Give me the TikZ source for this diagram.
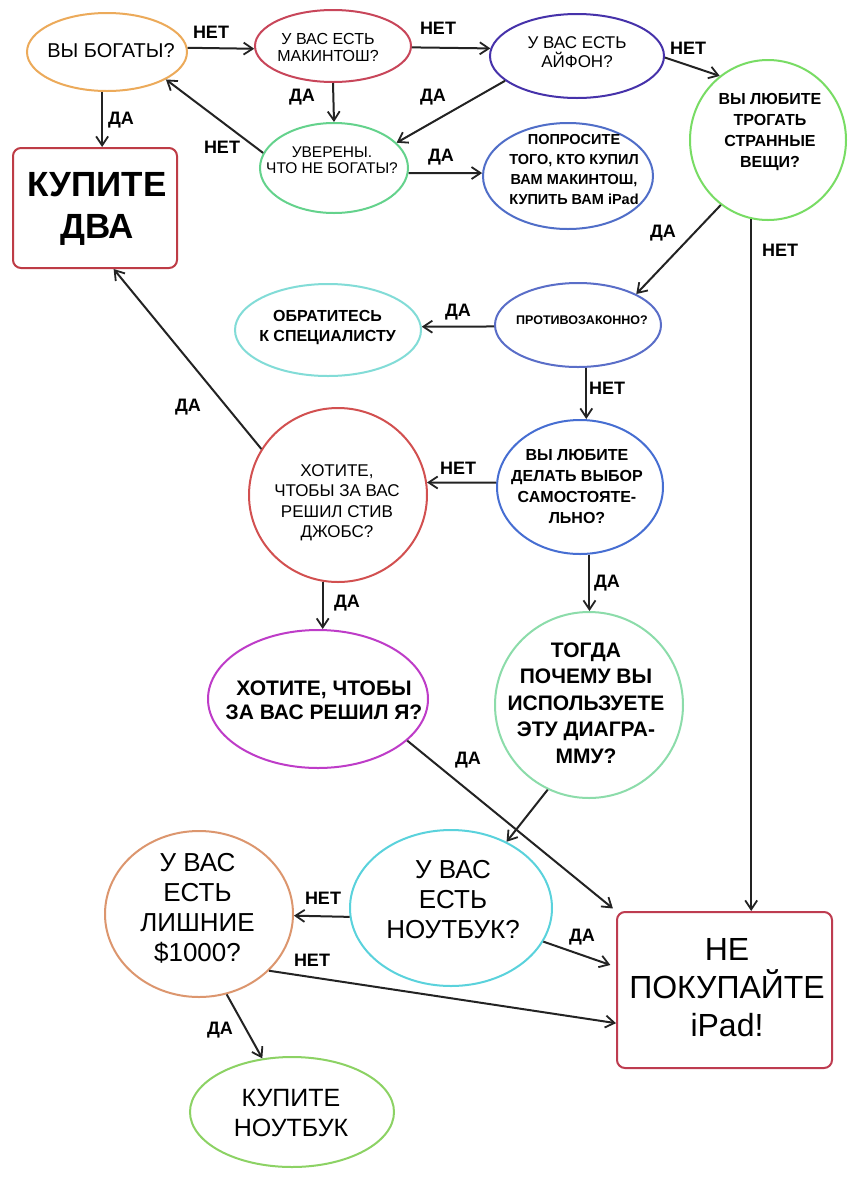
\documentclass[tikz,border=0pt]{standalone}
\usepackage{fontspec}
\setmainfont{Liberation Sans}
\usetikzlibrary{shapes.geometric,arrows.meta}
\definecolor{cA}{RGB}{236,170,90}
\definecolor{cB}{RGB}{200,70,90}
\definecolor{cC}{RGB}{70,50,170}
\definecolor{cD}{RGB}{120,220,100}
\definecolor{cE}{RGB}{190,60,70}
\definecolor{cF}{RGB}{100,210,140}
\definecolor{cG}{RGB}{80,110,200}
\definecolor{cH}{RGB}{90,110,200}
\definecolor{cI}{RGB}{130,220,215}
\definecolor{cJ}{RGB}{70,110,210}
\definecolor{cK}{RGB}{210,80,80}
\definecolor{cL}{RGB}{190,60,200}
\definecolor{cM}{RGB}{140,220,170}
\definecolor{cN}{RGB}{90,210,220}
\definecolor{cO}{RGB}{220,150,110}
\definecolor{cP}{RGB}{140,210,100}
\definecolor{cQ}{RGB}{190,60,80}
\definecolor{arrcol}{RGB}{35,35,35}
\tikzset{
  bub/.style={ellipse, draw, line width=2pt, inner sep=0pt},
  rbox/.style={rectangle, rounded corners=8pt, draw, line width=2pt, inner sep=0pt},
  txt/.style={align=center, inner sep=0pt, text=black},
  arr/.style={draw=arrcol, line width=2pt, -{Straight Barb[length=9pt,width=12pt,line width=1.8pt]}},
  lab/.style={font=\bfseries\fontsize{18}{18}\selectfont, inner sep=0pt, text=black},
}
\begin{document}
\begin{tikzpicture}[x=1pt,y=-1pt]
\fill[white] (0,0) rectangle (848,1179);
\useasboundingbox (0,0) rectangle (848,1179);

% shapes
\node[bub, draw=cA, minimum width=160pt, minimum height=78pt] (A) at (107,52) {};
\node[bub, draw=cB, minimum width=156pt, minimum height=72pt] (B) at (333,46) {};
\node[bub, draw=cC, minimum width=174pt, minimum height=84pt] (C) at (577,56) {};
\node[bub, draw=cD, minimum width=156pt, minimum height=160pt] (D) at (768,140) {};
\node[rbox, draw=cE, minimum width=164pt, minimum height=120pt] (E) at (95,208) {};
\node[bub, draw=cF, minimum width=148pt, minimum height=90pt] (F) at (334,168) {};
\node[bub, draw=cG, minimum width=170pt, minimum height=106pt] (G) at (568,176) {};
\node[bub, draw=cH, minimum width=166pt, minimum height=84pt] (H) at (578,325) {};
\node[bub, draw=cI, minimum width=186pt, minimum height=92pt] (I) at (328,330) {};
\node[bub, draw=cJ, minimum width=166pt, minimum height=134pt] (J) at (580,487) {};
\node[bub, draw=cK, minimum width=178pt, minimum height=174pt] (K) at (338,495) {};
\node[bub, draw=cL, minimum width=220pt, minimum height=138pt] (L) at (318,699) {};
\node[bub, draw=cM, minimum width=188pt, minimum height=186pt] (M) at (589,705) {};
\node[bub, draw=cN, minimum width=202pt, minimum height=156pt] (N) at (451,908) {};
\node[bub, draw=cO, minimum width=188pt, minimum height=166pt] (O) at (199,914) {};
\node[bub, draw=cP, minimum width=204pt, minimum height=110pt] (P) at (292,1112) {};
\node[rbox, draw=cQ, minimum width=215pt, minimum height=156pt] (Q) at (724.5,990) {};

% texts
\node[txt, font=\fontsize{20}{22}\selectfont] (At) at (111,51) {ВЫ БОГАТЫ?};
\node[txt, font=\fontsize{16}{16.5}\selectfont] (Bt) at (328,47.5) {У ВАС ЕСТЬ\\МАКИНТОШ?};
\node[txt, font=\fontsize{17}{19}\selectfont] (Ct) at (577,52) {У ВАС ЕСТЬ\\АЙФОН?};
\node[txt, font=\bfseries\fontsize{16}{21}\selectfont] (Dt) at (770,132) {ВЫ ЛЮБИТЕ\\ТРОГАТЬ\\СТРАННЫЕ\\ВЕЩИ?};
\node[txt, font=\bfseries\fontsize{35}{42}\selectfont] (Et) at (97,209) {КУПИТЕ\\ДВА};
\node[txt, font=\fontsize{15.5}{16}\selectfont] (Ft) at (332,160.5) {УВЕРЕНЫ.\\ЧТО НЕ БОГАТЫ?};
\node[txt, font=\bfseries\fontsize{14.5}{20}\selectfont] (Gt) at (574,170) {ПОПРОСИТЕ\\ТОГО, КТО КУПИЛ\\ВАМ МАКИНТОШ,\\КУПИТЬ ВАМ iPad};
\node[txt, font=\bfseries\fontsize{12.5}{14}\selectfont] (Ht) at (582,320) {ПРОТИВОЗАКОННО?};
\node[txt, font=\bfseries\fontsize{16}{20}\selectfont] (It) at (327.5,327) {ОБРАТИТЕСЬ\\К СПЕЦИАЛИСТУ};
\node[txt, font=\bfseries\fontsize{16}{21}\selectfont] (Jt) at (577,486.5) {ВЫ ЛЮБИТЕ\\ДЕЛАТЬ ВЫБОР\\САМОСТОЯТЕ-\\ЛЬНО?};
\node[txt, font=\fontsize{17}{20.5}\selectfont] (Kt) at (337,502.5) {ХОТИТЕ,\\ЧТОБЫ ЗА ВАС\\РЕШИЛ СТИВ\\ДЖОБС?};
\node[txt, font=\bfseries\fontsize{21}{24}\selectfont] (Lt) at (324,700) {ХОТИТЕ, ЧТОБЫ\\ЗА ВАС РЕШИЛ Я?};
\node[txt, font=\bfseries\fontsize{21}{26.5}\selectfont] (Mt) at (586,703) {ТОГДА\\ПОЧЕМУ ВЫ\\ИСПОЛЬЗУЕТЕ\\ЭТУ ДИАГРА-\\ММУ?};
\node[txt, font=\fontsize{26}{30}\selectfont] (Nt) at (453,900) {У ВАС\\ЕСТЬ\\НОУТБУК?};
\node[txt, font=\fontsize{26}{30}\selectfont] (Ot) at (197.5,908) {У ВАС\\ЕСТЬ\\ЛИШНИЕ\\\$1000?};
\node[txt, font=\fontsize{25}{30}\selectfont] (Pt) at (291,1113) {КУПИТЕ\\НОУТБУК};
\node[txt, font=\fontsize{32}{38}\selectfont] (Qt) at (727,988) {НЕ\\ПОКУПАЙТЕ\\iPad!};

% connectors
\draw[arr] (A.3) -- (B.182);
\draw[arr] (B.-1) -- (C.175);
\draw[arr] (C.-1) -- (D.127);
\draw[arr] (A.-97) -- (A.-97 |- E.north);
\draw[arr] (B.south) -- (F.north);
\draw[arr] (C.199) -- (F.22);
\draw[arr] (F.168) -- (A.-25);
\draw[arr] (F.-4) -- (G.178);
\draw[arr] (D.-126) -- (H.28);
\draw[arr] (D.-102) -- (D.-102 |- Q.north);
\draw[arr] (H.181) -- (I.2);
\draw[arr] (H.-79) -- (H.-79 |- J.north);
\draw[arr] (J.177) -- (K.8);
\draw[arr] (J.-82) -- (J.-82 |- M.north);
\draw[arr] (K.149) -- (E.-73);
\draw[arr] (K.-100) -- (K.-100 |- L.north);
\draw[arr, shorten >=4pt] (L.-25) -- (Q.north west);
\draw[arr] (M.-116) -- (N.50);
\draw[arr] (N.185) -- (O.-1);
\draw[arr, shorten >=6pt] (N.-20) -- (Q.168);
\draw[arr] (O.-39) -- (Q.197);
\draw[arr] (O.-71) -- (P.119);

% labels
\node[lab] (l1) at (211,32) {НЕТ};
\node[lab] (l2) at (438,28) {НЕТ};
\node[lab] (l3) at (688,48) {НЕТ};
\node[lab] (l4) at (121,120) {ДА};
\node[lab] (l5) at (302,97) {ДА};
\node[lab] (l6) at (433,97) {ДА};
\node[lab] (l7) at (222,147) {НЕТ};
\node[lab] (l8) at (441,157) {ДА};
\node[lab] (l9) at (663,233) {ДА};
\node[lab] (l10) at (780,250) {НЕТ};
\node[lab] (l11) at (458,312) {ДА};
\node[lab] (l12) at (607,388) {НЕТ};
\node[lab] (l13) at (458,468) {НЕТ};
\node[lab] (l14) at (607,583) {ДА};
\node[lab] (l15) at (188,407) {ДА};
\node[lab] (l16) at (347,603) {ДА};
\node[lab] (l17) at (468,760) {ДА};
\node[lab] (l19) at (323,898) {НЕТ};
\node[lab] (l20) at (582,937) {ДА};
\node[lab] (l21) at (312,960) {НЕТ};
\node[lab] (l22) at (220,1030) {ДА};
\end{tikzpicture}
\end{document}
